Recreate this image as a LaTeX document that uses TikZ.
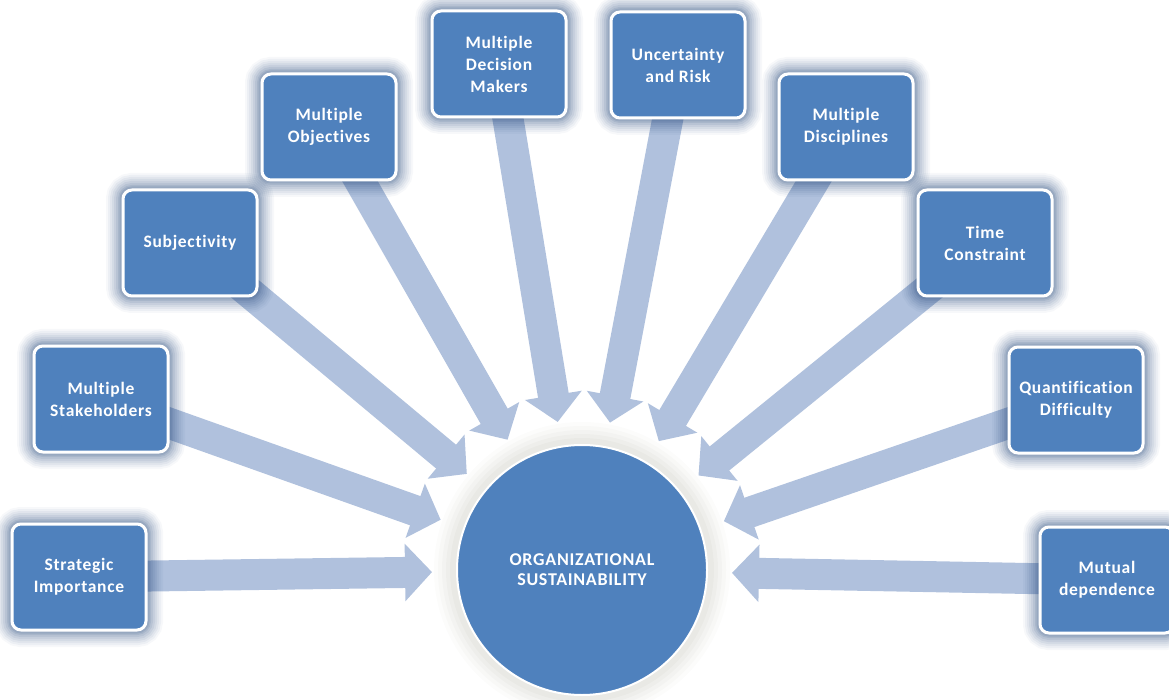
\documentclass[tikz,border=0pt]{standalone}
\usepackage{fontspec}
\setmainfont{Carlito}[Ligatures=NoCommon,LetterSpace=4]
\usepackage{tikz}
\usetikzlibrary{arrows.meta,backgrounds}
\definecolor{boxblue}{HTML}{4F81BD}
\definecolor{arrowblue}{HTML}{B0C1DD}
\definecolor{glowblue}{HTML}{284A7C}
\definecolor{glowgray}{HTML}{D4D4CC}

\begin{document}
\begin{tikzpicture}[x=1pt,y=-1pt,
  bluehalo/.style={preaction={draw=glowblue,line width=34pt,draw opacity=.04},
    preaction={draw=glowblue,line width=30pt,draw opacity=.05},
    preaction={draw=glowblue,line width=26pt,draw opacity=.06},
    preaction={draw=glowblue,line width=22pt,draw opacity=.07},
    preaction={draw=glowblue,line width=18pt,draw opacity=.08},
    preaction={draw=glowblue,line width=14pt,draw opacity=.09},
    preaction={draw=glowblue,line width=10pt,draw opacity=.11},
    preaction={draw=glowblue,line width=7pt,draw opacity=.13}},
  grayhalo/.style={preaction={draw=glowgray,line width=46pt,draw opacity=.08},
    preaction={draw=glowgray,line width=38pt,draw opacity=.1},
    preaction={draw=glowgray,line width=30pt,draw opacity=.12},
    preaction={draw=glowgray,line width=22pt,draw opacity=.15},
    preaction={draw=glowgray,line width=14pt,draw opacity=.2}},
  factor/.style={bluehalo,draw=white,line width=3pt,fill=boxblue,rounded corners=9pt,
    minimum width=134pt,minimum height=106pt,align=center,text=white,
    font=\bfseries\fontsize{17.5}{22}\selectfont},
  goal/.style={grayhalo,circle,draw=white,line width=2pt,fill=boxblue,minimum size=250pt,
    inner sep=0pt,outer sep=25pt,align=center,text=white,
    font=\bfseries\fontsize{18}{20}\selectfont},
  push/.style={line width=31pt,draw=arrowblue,-{Triangle[length=27pt,width=56pt]}}]
\useasboundingbox (0,0) rectangle (1169,700);
\node[goal] (org) at (582,570) {ORGANIZATIONAL\\SUSTAINABILITY};
\node[factor] (strat) at (79,577) {Strategic\\Importance};
\node[factor] (stake) at (101,399) {Multiple\\Stakeholders};
\node[factor] (subj) at (190,243) {Subjectivity};
\node[factor] (obj) at (329,127) {Multiple\\Objectives};
\node[factor] (dec) at (499,64) {Multiple\\Decision\\Makers};
\node[factor] (unc) at (678,65) {Uncertainty\\and Risk};
\node[factor] (disc) at (846,127) {Multiple\\Disciplines};
\node[factor] (time) at (985,243) {Time\\Constraint};
\node[factor] (quant) at (1076,400) {Quantification\\Difficulty};
\node[factor] (mutual) at (1107,580) {Mutual\\dependence};
\begin{scope}[on background layer]
\foreach \n in {strat,stake,subj,obj,dec,unc,disc,time,quant,mutual}
  \draw[push] (\n.center) -- (org);
\end{scope}
\end{tikzpicture}
\end{document}
